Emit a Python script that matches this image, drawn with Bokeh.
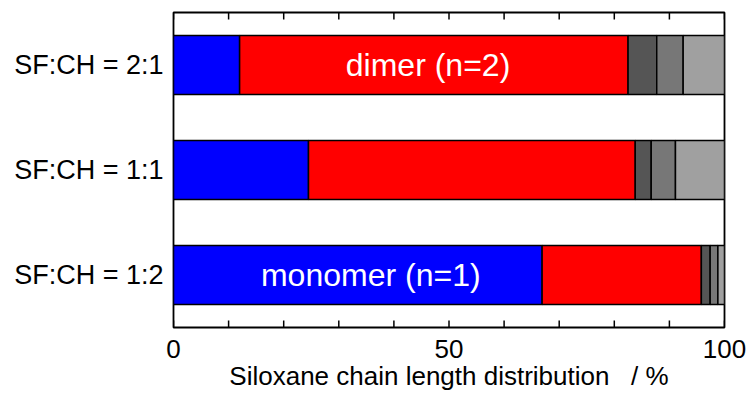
from bokeh.plotting import figure
from bokeh.models import ColumnDataSource, FixedTicker, Range1d, FactorRange
from bokeh.core.properties import value
from bokeh.embed import file_html
from bokeh.resources import INLINE

# ---- data ----
categories = ["SF:CH = 1:2", "SF:CH = 1:1", "SF:CH = 2:1"]
monomer = [66.9, 24.5, 12.0]
dimer = [28.9, 59.3, 70.5]
trimer = [1.6, 2.9, 5.2]
tetramer = [1.4, 4.4, 4.8]
longer = [1.2, 8.9, 7.5]
series_names = ["monomer", "dimer", "trimer", "tetramer", "longer"]
series_colors = ["#0000FF", "#FF0000", "#555555", "#777777", "#A0A0A0"]

label_texts = ["dimer (n=2)", "monomer (n=1)"]
label_cats = ["SF:CH = 2:1", "SF:CH = 1:2"]
label_x = [46.2, 35.8]

x_major = [0, 50, 100]
x_minor = [0, 10, 20, 30, 40, 50, 60, 70, 80, 90, 100]
x_title = "Siloxane chain length distribution\u00a0\u00a0\u00a0/ %"

FONT = "Liberation Sans"
TICK = 7 / 105.0   # inward tick length in category units (105 px per category)
N_CAT = len(categories)

source = ColumnDataSource(dict(cat=categories, monomer=monomer, dimer=dimer,
                               trimer=trimer, tetramer=tetramer, longer=longer))

p = figure(width=748, height=393, y_range=FactorRange(*categories),
           x_range=Range1d(0, 100), output_backend="svg", toolbar_location=None,
           min_border_left=173, min_border_right=24, min_border_top=12,
           min_border_bottom=66)

p.hbar_stack(series_names, y="cat", height=0.56, source=source,
             fill_color=series_colors, line_color="black", line_width=1.5)

p.text(x=label_x, y=label_cats, text=label_texts, text_color="white",
       text_align="center", text_baseline="middle",
       text_font=value(FONT), text_font_size="32px")

# inward ticks on bottom and top edges of the frame
nt = len(x_minor)
p.segment(x0=x_minor, x1=x_minor, y0=[0] * nt, y1=[TICK] * nt,
          line_color="black", line_width=1.5)
p.segment(x0=x_minor, x1=x_minor, y0=[N_CAT] * nt, y1=[N_CAT - TICK] * nt,
          line_color="black", line_width=1.5)

p.grid.visible = False
p.outline_line_color = "black"
p.outline_line_width = 1.8

xa = p.xaxis[0]
xa.ticker = FixedTicker(ticks=x_major)
xa.axis_line_color = None
xa.major_tick_line_color = None
xa.minor_tick_line_color = None
xa.major_tick_in = 0
xa.major_tick_out = 0
xa.major_label_text_font = FONT
xa.major_label_text_font_size = "26px"
xa.major_label_text_color = "black"
xa.major_label_standoff = 12
xa.axis_label = x_title
xa.axis_label_text_font = FONT
xa.axis_label_text_font_size = "26px"
xa.axis_label_text_font_style = "normal"
xa.axis_label_text_color = "black"
xa.axis_label_standoff = 0

ya = p.yaxis[0]
ya.axis_line_color = None
ya.major_tick_line_color = None
ya.minor_tick_line_color = None
ya.major_tick_out = 0
ya.major_tick_in = 0
ya.major_label_text_font = FONT
ya.major_label_text_font_size = "27px"
ya.major_label_text_color = "black"
ya.major_label_standoff = 10

open("out.html", "w").write(file_html(p, INLINE))
